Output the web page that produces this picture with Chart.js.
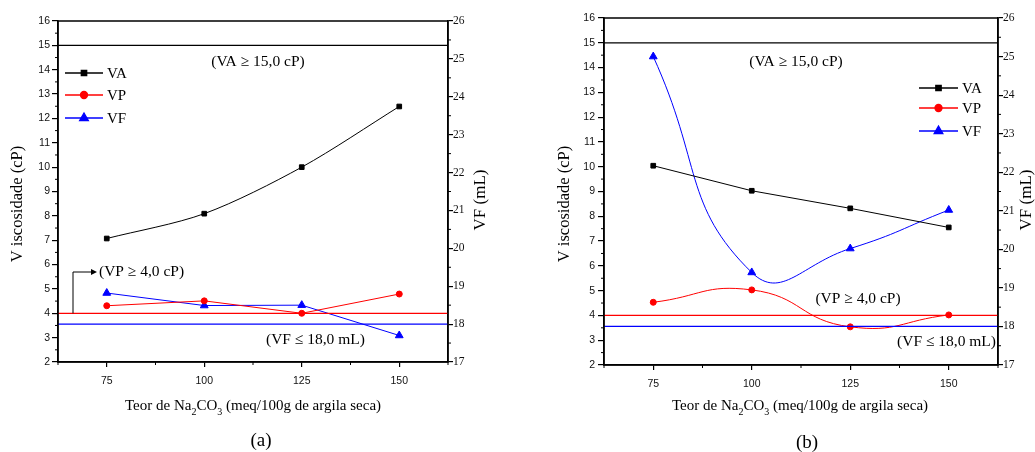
<!DOCTYPE html>
<html><head><meta charset="utf-8">
<script src="https://cdn.jsdelivr.net/npm/chart.js@4.4.1/dist/chart.umd.min.js"></script>
<style>
html,body{margin:0;padding:0;background:#fff;width:1035px;height:452px;overflow:hidden}
#wa{position:absolute;left:0;top:0;width:515px;height:452px}
#wb{position:absolute;left:515px;top:0;width:520px;height:452px}
</style></head><body>
<div id="wa"><canvas id="ca"></canvas></div>
<div id="wb"><canvas id="cb"></canvas></div>
<script>
// ---- data ----
const categories = [75, 100, 125, 150];
const xTicks = [75, 100, 125, 150];
const xMinorTicks = [62.5, 87.5, 112.5, 137.5, 162.5];
const xRange = [62.5, 162.5];
const yRange = [2, 16];
const y1Range = [17, 26];
const seriesNames = ['VA', 'VP', 'VF'];
// (a)
const vaA = [7.07, 8.09, 10.0, 12.49];
const vpA = [4.31, 4.51, 4.0, 4.79];
const vfA = [18.82, 18.49, 18.5, 17.7];
// (b)
const vaB = [10.04, 9.03, 8.32, 7.55];
const vpB = [4.53, 5.03, 3.54, 4.02];
const vfB = [25.0, 19.4, 20.02, 21.02];
// limits
const limitVA = 15.0, limitVP = 4.0, limitVF = 18.0;
const labelVA = '(VA \u2265 15,0 cP)';
const labelVP = '(VP \u2265 4,0 cP)';
const labelVF = '(VF \u2264 18,0 mL)';

const SERIF = '"Liberation Serif", "DejaVu Serif", serif';
const SANS = '"Liberation Sans", Arial, sans-serif';
const RED = '#ff0000', BLUE = '#0000ff', BLACK = '#000000';
const TXT = '#000';

function pts(vals){ return categories.map((c,i)=>({x:c,y:vals[i]})); }
function hline(v){ return [{x:xRange[0],y:v},{x:xRange[1],y:v}]; }

function makeDatasets(va, vp, vf, tA, tP, tF){
  return [
    {label:'lim VA', data:hline(limitVA), yAxisID:'y', borderColor:BLACK, borderWidth:1.3, pointRadius:0, tension:0},
    {label:'lim VP', data:hline(limitVP), yAxisID:'y', borderColor:RED, borderWidth:1.3, pointRadius:0, tension:0},
    {label:'lim VF', data:hline(limitVF), yAxisID:'y1', borderColor:BLUE, borderWidth:1.3, pointRadius:0, tension:0},
    {label:'VA', data:pts(va), yAxisID:'y', borderColor:BLACK, backgroundColor:BLACK, borderWidth:1, pointStyle:'rect', pointRadius:3.3, tension:tA},
    {label:'VP', data:pts(vp), yAxisID:'y', borderColor:RED, backgroundColor:RED, borderWidth:1, pointStyle:'circle', pointRadius:3, tension:tP},
    {label:'VF', data:pts(vf), yAxisID:'y1', borderColor:BLUE, backgroundColor:BLUE, borderWidth:1, pointStyle:'triangle', pointRadius:4.5, tension:tF}
  ];
}

function drawSubTitle(ctx, cx, y){
  const parts = [['Teor de Na',0],['2',1],['CO',0],['3',1],[' (meq/100g de argila seca)',0]];
  const big = '15px ' + SERIF, small = '10px ' + SERIF;
  let w = 0;
  parts.forEach(p=>{ ctx.font = p[1]?small:big; w += ctx.measureText(p[0]).width; });
  let x = cx - w/2;
  ctx.textAlign='left'; ctx.textBaseline='middle'; ctx.fillStyle=TXT;
  parts.forEach(p=>{ ctx.font = p[1]?small:big; ctx.fillText(p[0], x, p[1]? y+6 : y); x += ctx.measureText(p[0]).width; });
}

function decoPlugin(cfg){
  return {
    id:'deco',
    afterDraw(chart){
      const ctx = chart.ctx, a = chart.chartArea;
      const sx = chart.scales.x, sy = chart.scales.y, sy1 = chart.scales.y1;
      ctx.save();
      // frame
      ctx.strokeStyle = BLACK; ctx.lineWidth = 1.5;
      ctx.strokeRect(a.left, a.top, a.right-a.left, a.bottom-a.top);
      // minor ticks
      ctx.lineWidth = 1;
      ctx.beginPath();
      for (let v = yRange[0]+0.5; v < yRange[1]; v += 1){
        const p = sy.getPixelForValue(v); ctx.moveTo(a.left-3, p); ctx.lineTo(a.left, p);
      }
      for (let v = y1Range[0]+0.5; v < y1Range[1]; v += 1){
        const p = sy1.getPixelForValue(v); ctx.moveTo(a.right, p); ctx.lineTo(a.right+3, p);
      }
      xMinorTicks.forEach(v=>{ const p = sx.getPixelForValue(v); ctx.moveTo(p, a.bottom); ctx.lineTo(p, a.bottom+3); });
      ctx.stroke();
      // legend
      const ds = chart.data.datasets.slice(3);
      ds.forEach((d,i)=>{
        const y = cfg.legY[i];
        ctx.strokeStyle = d.borderColor; ctx.lineWidth = 1.3;
        ctx.beginPath(); ctx.moveTo(cfg.legX0, y); ctx.lineTo(cfg.legX1, y); ctx.stroke();
        ctx.fillStyle = d.backgroundColor; ctx.strokeStyle = d.borderColor;
        Chart.helpers.drawPoint(ctx, {pointStyle:d.pointStyle, radius:d.pointRadius+0.5, rotation:0, borderWidth:1}, (cfg.legX0+cfg.legX1)/2, y);
        ctx.fillStyle = TXT; ctx.font = '15px ' + SERIF; ctx.textAlign='left'; ctx.textBaseline='middle';
        ctx.fillText(seriesNames[i], cfg.legX1+4, y+1);
      });
      // annotations
      ctx.fillStyle = TXT; ctx.font = '15.5px ' + SERIF; ctx.textBaseline='middle';
      ctx.textAlign='center';
      ctx.fillText(labelVA, cfg.vaLbl[0], cfg.vaLbl[1]);
      ctx.textAlign = cfg.vpAlign;
      ctx.fillText(labelVP, cfg.vpLbl[0], cfg.vpLbl[1]);
      ctx.textAlign = cfg.vfAlign;
      ctx.fillText(labelVF, cfg.vfLbl[0], cfg.vfLbl[1]);
      if (cfg.arrow){
        const yl = sy.getPixelForValue(limitVP);
        const [ax, ay, ex] = cfg.arrow;
        ctx.strokeStyle = BLACK; ctx.lineWidth = 1;
        ctx.beginPath(); ctx.moveTo(ax, yl); ctx.lineTo(ax, ay); ctx.lineTo(ex-4, ay); ctx.stroke();
        ctx.fillStyle = BLACK;
        ctx.beginPath(); ctx.moveTo(ex, ay); ctx.lineTo(ex-6, ay-3); ctx.lineTo(ex-6, ay+3); ctx.closePath(); ctx.fill();
      }
      // axis titles
      ctx.fillStyle = TXT;
      ctx.save(); ctx.translate(cfg.yTitle[0], cfg.yTitle[1]); ctx.rotate(-Math.PI/2);
      ctx.font = '16.5px ' + SERIF; ctx.textAlign='center'; ctx.textBaseline='middle';
      ctx.fillText('V iscosidade (cP)', 0, 0); ctx.restore();
      ctx.save(); ctx.translate(cfg.y1Title[0], cfg.y1Title[1]); ctx.rotate(-Math.PI/2);
      ctx.font = '17px ' + SERIF; ctx.textAlign='center'; ctx.textBaseline='middle';
      ctx.fillText('VF (mL)', 0, 0); ctx.restore();
      drawSubTitle(ctx, cfg.xTitle[0], cfg.xTitle[1]);
      ctx.font = '19px ' + SERIF; ctx.textAlign='center'; ctx.textBaseline='middle';
      ctx.fillText(cfg.panel, cfg.panelPos[0], cfg.panelPos[1]);
      ctx.restore();
    }
  };
}

function makeChart(id, datasets, L, cfg){
  const axisGrid = {drawOnChartArea:false, drawTicks:true, tickLength:5, color:BLACK, lineWidth:1.2};
  return new Chart(document.getElementById(id), {
    type:'line',
    data:{datasets},
    options:{
      responsive:true, maintainAspectRatio:false, animation:false,
      layout:{padding:{top:L.top, left:0, right:0, bottom:0}},
      plugins:{legend:{display:false}, tooltip:{enabled:false}},
      scales:{
        x:{type:'linear', min:xRange[0], max:xRange[1],
           afterBuildTicks(s){ s.ticks = xTicks.map(v=>({value:v})); },
           grid:axisGrid, border:{color:BLACK, width:1.5},
           ticks:{font:{family:SANS, size:10.5}, color:'#111', padding:8, maxRotation:0, autoSkip:false},
           afterFit(s){ s.height = L.xH; }},
        y:{type:'linear', position:'left', min:yRange[0], max:yRange[1],
           grid:Object.assign({}, axisGrid, {tickLength:6}), border:{color:BLACK, width:1.5},
           ticks:{stepSize:1, font:{family:SANS, size:10.5}, color:'#111', padding:L.yPad},
           afterFit(s){ s.width = L.yW; }},
        y1:{type:'linear', position:'right', min:y1Range[0], max:y1Range[1],
           grid:Object.assign({}, axisGrid, {tickLength:5}), border:{color:BLACK, width:1.5},
           ticks:{stepSize:1, font:{family:SERIF, size:11.5}, color:'#111', padding:0},
           afterFit(s){ s.width = L.y1W; }}
      }
    },
    plugins:[decoPlugin(cfg)]
  });
}

makeChart('ca', makeDatasets(vaA, vpA, vfA, 0.3, 0, 0),
  {top:21, xH:90, yW:58, y1W:67, yPad:2},
  {legX0:65, legX1:103, legY:[73,95,118],
   vaLbl:[258,62], vpLbl:[99,272], vpAlign:'left', vfLbl:[266,340], vfAlign:'left',
   arrow:[73,272,97],
   yTitle:[18,204], y1Title:[481,200], xTitle:[253,406], panel:'(a)', panelPos:[261,441]});

makeChart('cb', makeDatasets(vaB, vpB, vfB, 0, 0.5, 0.5),
  {top:18, xH:87, yW:89, y1W:37, yPad:3},
  {legX0:404, legX1:443, legY:[88,108,131],
   vaLbl:[281,62], vpLbl:[343,299], vpAlign:'center', vfLbl:[481,342], vfAlign:'right',
   arrow:null,
   yTitle:[50,204], y1Title:[512,200], xTitle:[285,406], panel:'(b)', panelPos:[292,443]});
</script>
</body></html>
